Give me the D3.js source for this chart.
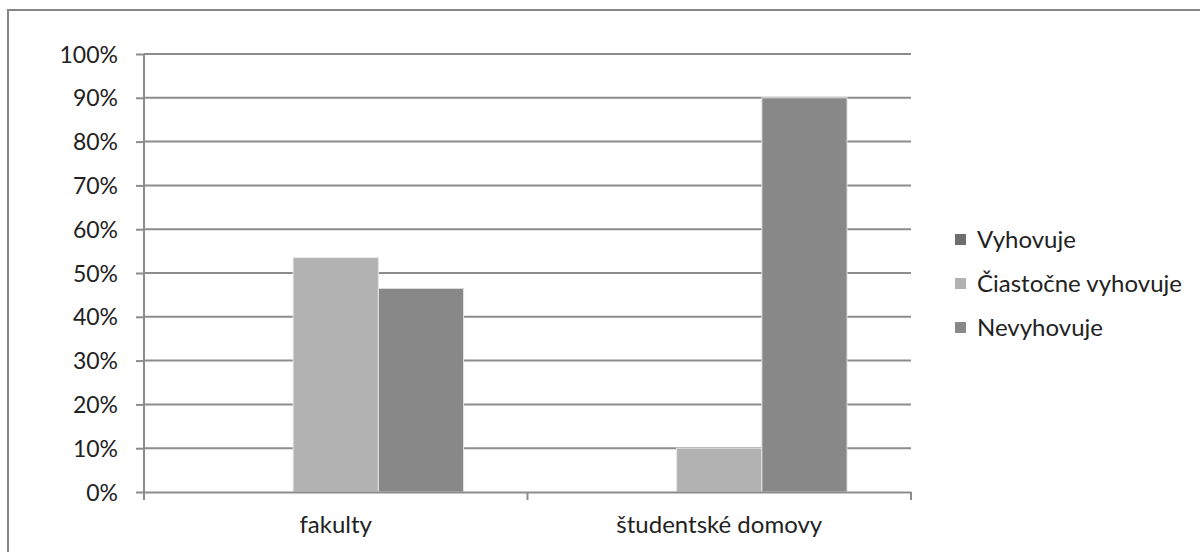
<!DOCTYPE html>
<html>
<head>
<meta charset="utf-8">
<script src="https://cdn.jsdelivr.net/npm/d3@7"></script>
<style>
  html, body { margin: 0; padding: 0; background: #fff; }
  svg { display: block; }
  text { font-family: Lato, "Open Sans", sans-serif; fill: #222; }
</style>
</head>
<body>
<svg id="chart" width="1200" height="552"></svg>
<script>
// Categories, series and their values (percent)
const categories = ["fakulty", "študentské domovy"];
const seriesNames = ["Vyhovuje", "Čiastočne vyhovuje", "Nevyhovuje"];
const vyhovuje = [0, 0];
const ciastocne = [53.5, 10];
const nevyhovuje = [46.5, 90];
const yTicks = [0, 10, 20, 30, 40, 50, 60, 70, 80, 90, 100];
const seriesColors = ["#6e6e6e", "#b2b2b2", "#888888"];

const seriesValues = [vyhovuje, ciastocne, nevyhovuje];

const svg = d3.select("#chart");
const plot = { left: 144, right: 911, top: 54, bottom: 492 };

// Outer chart frame
svg.append("rect")
  .attr("x", 8).attr("y", 10)
  .attr("width", 1200).attr("height", 560)
  .attr("fill", "none").attr("stroke", "#868686").attr("stroke-width", 2);

// Category bands; each group keeps a 150% gap around its bars
const x0 = d3.scaleBand().domain(categories).range([plot.left, plot.right]).paddingInner(0).paddingOuter(0);
const x1 = d3.scaleBand().domain(seriesNames).range([0, x0.bandwidth()]).paddingInner(0).paddingOuter(0.75);
const y = d3.scaleLinear().domain([0, 100]).range([plot.bottom, plot.top]);

// Horizontal gridlines
svg.append("g")
  .selectAll("line")
  .data(yTicks.filter(t => t > 0))
  .join("line")
  .attr("x1", plot.left).attr("x2", plot.right)
  .attr("y1", d => y(d)).attr("y2", d => y(d))
  .attr("stroke", "#8c8c8c").attr("stroke-width", 2);

// Bars
const groups = svg.append("g")
  .selectAll("g")
  .data(categories)
  .join("g")
  .attr("transform", d => `translate(${x0(d)},0)`);

groups.selectAll("rect")
  .data((c, ci) => seriesNames.map((s, si) => ({ s, si, v: seriesValues[si][ci] })))
  .join("rect")
  .filter(d => d.v > 0)
  .attr("x", d => x1(d.s))
  .attr("width", x1.bandwidth())
  .attr("y", d => y(d.v))
  .attr("height", d => y(0) - y(d.v))
  .attr("fill", d => seriesColors[d.si])
  .attr("stroke", "#e4e4e4").attr("stroke-width", 1);

// Y axis
const yAxis = d3.axisLeft(y).tickValues(yTicks).tickFormat(d => d + "%").tickSize(8).tickPadding(18);
const gy = svg.append("g").attr("transform", `translate(${plot.left},0)`).call(yAxis);
gy.select(".domain").attr("stroke", "#8c8c8c").attr("stroke-width", 2).attr("d", `M0,${plot.top}V${plot.bottom + 8}`);
gy.selectAll(".tick line").attr("stroke", "#8c8c8c").attr("stroke-width", 2);
gy.selectAll(".tick text").style("font-size", "23px").attr("fill", "#222").attr("dy", "0.35em");

// X axis
const xAxis = d3.axisBottom(x0).tickSize(0).tickPadding(0);
const gx = svg.append("g").attr("transform", `translate(0,${plot.bottom})`).call(xAxis);
gx.select(".domain").attr("stroke", "#8c8c8c").attr("stroke-width", 2);
gx.selectAll(".tick text").style("font-size", "24px").attr("fill", "#222").attr("y", 41).attr("dy", 0);
// Category separator ticks
const sepTicks = [plot.left, x0(categories[1]), plot.right];
gx.append("g").selectAll("line").data(sepTicks).join("line")
  .attr("x1", d => d).attr("x2", d => d)
  .attr("y1", 0).attr("y2", 8)
  .attr("stroke", "#8c8c8c").attr("stroke-width", 2);

// Legend
const legend = svg.append("g").attr("transform", "translate(955,240)");
const items = legend.selectAll("g").data(seriesNames).join("g")
  .attr("transform", (d, i) => `translate(0,${i * 44})`);
items.append("rect")
  .attr("x", 0).attr("y", -6).attr("width", 11).attr("height", 11)
  .attr("fill", (d, i) => seriesColors[i]);
items.append("text")
  .attr("x", 22).attr("y", 0).attr("dy", "0.35em")
  .style("font-size", "24px")
  .text(d => d);
</script>
</body>
</html>
